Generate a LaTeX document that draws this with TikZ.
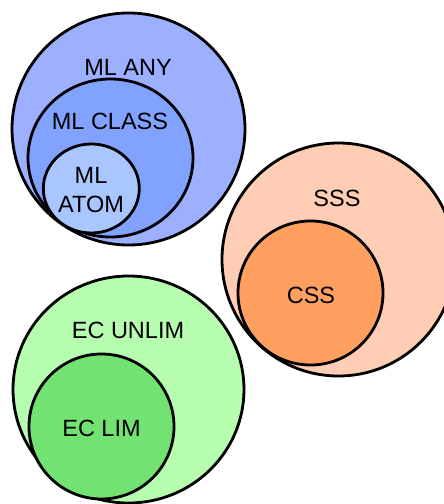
\documentclass[tikz,border=0pt]{standalone}
\usepackage{fontspec}
\setmainfont{Liberation Sans}
\usetikzlibrary{shapes.geometric}
\definecolor{mlany}{HTML}{9CB0FF}
\definecolor{mlclass}{HTML}{82A2FF}
\definecolor{mlatom}{HTML}{AAC6FF}
\definecolor{sss}{HTML}{FFCDB3}
\definecolor{css}{HTML}{FFA060}
\definecolor{ecunlim}{HTML}{B6FDB0}
\definecolor{eclim}{HTML}{72E272}
\tikzset{
  setshape/.style={ellipse, draw=black, line width=2.8pt, inner sep=0pt},
  lab/.style={anchor=base, font=\fontsize{23.5}{28}\selectfont, inner sep=0pt, align=center}
}
\begin{document}
\begin{tikzpicture}[x=1pt,y=-1pt]
\useasboundingbox (0,0) rectangle (444,504);
\begin{scope}
\clip (0,0) rectangle (444,504);
% ML group
\node[setshape, fill=mlany, minimum width=233pt, minimum height=232pt] (mlany) at (128.5,129) {};
\node[setshape, fill=mlclass, minimum width=165pt, minimum height=158pt] (mlclass) at (110.5,158) {};
\node[setshape, fill=mlatom, minimum width=96pt, minimum height=89pt] (mlatom) at (91.3,188.5) {};
% SS group
\node[setshape, fill=sss, minimum width=233pt, minimum height=233pt] (sss) at (338.5,259.5) {};
\node[setshape, fill=css, minimum width=145pt, minimum height=144pt] (css) at (310.5,293) {};
% EC group
\node[setshape, fill=ecunlim, minimum width=231pt, minimum height=227pt] (ecunlim) at (128.5,389.5) {};
\node[setshape, fill=eclim, minimum width=145pt, minimum height=145pt] (eclim) at (101.5,426.5) {};
\end{scope}
% labels
\node[lab] (tmlany) at (128,75) {ML ANY};
\node[lab] (tmlclass) at (110,129) {ML CLASS};
\node[lab] (tml) at (91,183) {ML};
\node[lab] (tatom) at (91,212) {ATOM};
\node[lab] (tsss) at (337,206) {SSS};
\node[lab] (tcss) at (311,303) {CSS};
\node[lab] (tecunlim) at (128,338) {EC UNLIM};
\node[lab] (teclim) at (101.5,436) {EC LIM};
\end{tikzpicture}
\end{document}
